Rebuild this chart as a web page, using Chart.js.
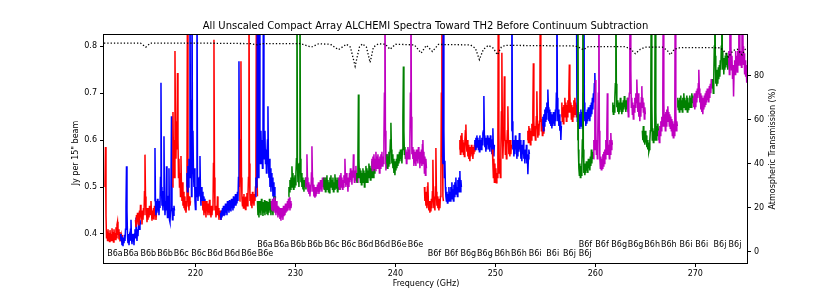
<!DOCTYPE html>
<html>
<head>
<meta charset="utf-8">
<script src="https://cdn.jsdelivr.net/npm/chart.js@4.4.1/dist/chart.umd.min.js"></script>
<style>
  html, body { margin: 0; padding: 0; background: #fff; }
</style>
</head>
<body>
<canvas id="spec" width="830" height="297"></canvas>
<script>
// spectral windows: start / end frequency (GHz), colour key, flux per channel (Jy per 15" beam)
const SPW_START = [210.95, 212.50, 214.00, 215.90, 217.70, 219.10, 220.70, 222.50, 224.40, 226.00,
                   226.20, 227.60, 229.30, 231.00, 232.80, 234.30, 236.10, 237.60, 239.10, 241.00,
                   242.90, 244.70, 246.40, 247.90, 249.70, 251.60, 253.20, 254.70, 256.60, 258.10,
                   258.20, 259.80, 261.70, 263.20, 264.70, 266.30, 268.20, 269.80, 271.70, 273.30];
const SPW_END = [212.70, 214.50, 216.10, 217.90, 219.50, 221.00, 222.70, 224.40, 226.20, 228.00,
                 228.00, 229.60, 231.10, 233.00, 234.50, 236.30, 238.00, 239.30, 241.00, 243.10,
                 244.80, 246.60, 248.10, 249.90, 251.60, 253.40, 254.90, 256.60, 258.20, 260.00,
                 259.80, 261.70, 263.30, 265.00, 266.30, 268.20, 269.80, 271.70, 273.30, 275.30];
const SPW_COLOR = ['r','b','r','b','r','b','r','b','r','b',
                   'g','m','g','m','g','m','g','m','g','m',
                   'r','b','r','b','r','b','r','b','r','b',
                   'g','m','g','m','g','m','g','m','g','m'];

const SPW_FLUX = [
  [0.50,0.585,0.44,0.392,0.405,0.386,0.41,0.39,0.402,0.384,0.408,0.392,0.40,0.386,0.412,0.39,0.404,0.383,0.41,0.394,0.402,0.388,0.414,0.392,0.42,0.426,0.398,0.41,0.388,0.404,0.384,0.40,0.39,0.396,0.382,0.398],
  [0.40,0.385,0.395,0.376,0.39,0.374,0.392,0.38,0.398,0.385,0.41,0.46,0.544,0.45,0.395,0.38,0.40,0.376,0.392,0.385,0.41,0.43,0.39,0.378,0.40,0.384,0.395,0.376,0.40,0.41,0.392,0.435,0.40,0.385,0.41,0.395,0.42,0.445,0.41,0.43,0.42],
  [0.43,0.415,0.44,0.42,0.445,0.425,0.44,0.418,0.45,0.43,0.462,0.435,0.45,0.42,0.445,0.43,0.455,0.44,0.49,0.569,0.48,0.44,0.455,0.425,0.45,0.43,0.455,0.435,0.46,0.44,0.455,0.47,0.445,0.428,0.45,0.432,0.455,0.43,0.46,0.438,0.45,0.43,0.445],
  [0.47,0.583,0.46,0.44,0.47,0.445,0.475,0.45,0.465,0.44,0.47,0.455,0.52,0.722,0.50,0.46,0.475,0.45,0.49,0.608,0.47,0.44,0.465,0.45,0.544,0.46,0.435,0.455,0.48,0.54,0.43,0.425,0.45,0.50,0.651,0.46,0.43,0.455,0.44,0.46,0.45],
  [0.50,0.66,0.55,0.60,0.52,0.79,0.62,0.56,0.64,0.58,0.743,0.60,0.52,0.56,0.50,0.53,0.48,0.566,0.50,0.47,0.51,0.46,0.49,0.455,0.48,0.45,0.47,0.445,0.46,0.52,0.95,0.55,0.47,0.45,0.48,0.46,0.47],
  [0.50,0.53,0.49,0.545,0.50,0.56,0.52,0.98,0.55,0.686,0.48,0.98,0.58,0.62,0.53,0.50,0.54,0.47,0.452,0.50,0.48,0.98,0.52,0.47,0.50,0.48,0.52,0.566,0.49,0.46,0.50,0.47,0.49,0.455,0.48,0.45,0.475,0.46,0.47],
  [0.47,0.45,0.465,0.44,0.47,0.445,0.46,0.435,0.47,0.45,0.46,0.44,0.465,0.445,0.473,0.44,0.46,0.435,0.455,0.44,0.46,0.45,0.55,0.814,0.52,0.45,0.46,0.435,0.45,0.44,0.48,0.44,0.455,0.43,0.45,0.435,0.448,0.43,0.45,0.438,0.445],
  [0.445,0.43,0.45,0.435,0.455,0.44,0.46,0.438,0.455,0.44,0.465,0.445,0.46,0.44,0.47,0.45,0.465,0.445,0.472,0.45,0.468,0.448,0.475,0.455,0.47,0.45,0.48,0.455,0.475,0.46,0.485,0.46,0.478,0.465,0.49,0.47,0.52,0.768,0.50],
  [0.47,0.49,0.60,0.768,0.52,0.475,0.46,0.48,0.455,0.485,0.46,0.478,0.452,0.48,0.465,0.487,0.46,0.48,0.52,0.98,0.55,0.47,0.485,0.46,0.48,0.455,0.49,0.465,0.485,0.46,0.48,0.47,0.50,0.56,0.98,0.53,0.48],
  [0.48,0.52,0.50,0.55,0.98,0.56,0.52,0.58,0.98,0.60,0.55,0.62,0.56,0.60,0.54,0.58,0.98,0.60,0.56,0.62,0.55,0.58,0.53,0.57,0.60,0.672,0.55,0.52,0.56,0.50,0.54,0.49,0.53,0.50,0.52,0.48,0.51,0.47,0.50,0.465,0.48],
  [0.47,0.44,0.465,0.435,0.47,0.445,0.462,0.44,0.475,0.45,0.46,0.438,0.468,0.445,0.472,0.44,0.465,0.448,0.47,0.442,0.46,0.44,0.468,0.445,0.475,0.45,0.465,0.44,0.47,0.448,0.46,0.44,0.47,0.45,0.48,0.455,0.47],
  [0.47,0.45,0.475,0.448,0.47,0.452,0.478,0.445,0.465,0.44,0.47,0.445,0.46,0.435,0.458,0.44,0.455,0.432,0.45,0.428,0.455,0.435,0.45,0.43,0.46,0.438,0.455,0.44,0.465,0.445,0.46,0.448,0.47,0.45,0.475,0.455,0.478,0.45,0.47,0.455,0.465],
  [0.48,0.50,0.49,0.515,0.495,0.52,0.50,0.544,0.51,0.53,0.495,0.52,0.50,0.525,0.505,0.53,0.56,0.98,0.55,0.51,0.525,0.50,0.55,0.98,0.56,0.51,0.53,0.50,0.52,0.495,0.515,0.49,0.51,0.50,0.52,0.495,0.51],
  [0.50,0.52,0.51,0.57,0.52,0.49,0.51,0.485,0.505,0.48,0.50,0.49,0.53,0.587,0.52,0.49,0.505,0.48,0.50,0.477,0.495,0.48,0.50,0.485,0.505,0.49,0.51,0.485,0.50,0.49,0.515,0.495,0.51,0.49,0.52,0.50,0.515,0.495,0.52,0.50,0.51],
  [0.50,0.52,0.495,0.515,0.49,0.52,0.50,0.525,0.495,0.515,0.49,0.51,0.488,0.52,0.50,0.525,0.50,0.515,0.495,0.52,0.49,0.51,0.495,0.527,0.50,0.52,0.498,0.515,0.49,0.52,0.50,0.518,0.495,0.51,0.50],
  [0.50,0.52,0.495,0.525,0.50,0.53,0.505,0.52,0.495,0.515,0.50,0.525,0.51,0.56,0.52,0.50,0.53,0.505,0.52,0.49,0.515,0.50,0.53,0.51,0.54,0.515,0.53,0.505,0.535,0.52,0.57,0.53,0.51,0.535,0.515,0.545,0.52,0.53,0.51,0.53,0.52],
  [0.51,0.53,0.52,0.56,0.697,0.56,0.52,0.54,0.51,0.535,0.505,0.53,0.51,0.54,0.515,0.535,0.50,0.53,0.51,0.545,0.52,0.54,0.51,0.535,0.52,0.55,0.525,0.545,0.515,0.54,0.52,0.555,0.53,0.545,0.52,0.55,0.53,0.545,0.535],
  [0.54,0.56,0.535,0.565,0.54,0.57,0.545,0.56,0.535,0.575,0.55,0.565,0.54,0.57,0.545,0.56,0.53,0.565,0.54,0.57,0.55,0.575,0.545,0.565,0.55,0.60,0.70,0.98,0.62,0.535,0.56,0.54,0.57,0.55,0.565],
  [0.55,0.57,0.54,0.565,0.545,0.575,0.55,0.57,0.60,0.637,0.58,0.55,0.57,0.54,0.56,0.53,0.555,0.525,0.55,0.535,0.56,0.54,0.57,0.545,0.565,0.55,0.575,0.555,0.58,0.56,0.575,0.55,0.58,0.65,0.757,0.62,0.57,0.585,0.56],
  [0.56,0.58,0.55,0.575,0.56,0.585,0.565,0.58,0.56,0.60,0.70,0.98,0.65,0.57,0.585,0.56,0.58,0.545,0.575,0.55,0.57,0.545,0.58,0.555,0.575,0.55,0.585,0.56,0.575,0.54,0.57,0.55,0.58,0.545,0.59,0.60,0.55,0.575,0.53,0.565,0.525,0.56,0.54],
  [0.50,0.47,0.49,0.46,0.48,0.455,0.50,0.51,0.465,0.45,0.47,0.445,0.46,0.448,0.475,0.455,0.49,0.558,0.48,0.455,0.47,0.45,0.50,0.583,0.49,0.46,0.48,0.455,0.475,0.45,0.47,0.455,0.48,0.52,0.70,0.98,0.60,0.48,0.47],
  [0.55,0.70,0.98,0.62,0.52,0.556,0.50,0.48,0.47,0.49,0.466,0.485,0.47,0.50,0.475,0.49,0.47,0.50,0.48,0.51,0.475,0.495,0.47,0.505,0.48,0.51,0.485,0.52,0.49,0.50,0.48,0.515,0.49,0.52,0.50,0.534,0.49,0.515,0.50],
  [0.58,0.60,0.57,0.61,0.575,0.615,0.585,0.60,0.57,0.595,0.565,0.60,0.62,0.633,0.59,0.575,0.60,0.565,0.59,0.56,0.585,0.555,0.58,0.565,0.59,0.57,0.585,0.56,0.58,0.57,0.59,0.575,0.595,0.58,0.59],
  [0.59,0.60,0.58,0.605,0.585,0.61,0.59,0.605,0.58,0.60,0.575,0.61,0.585,0.60,0.58,0.605,0.59,0.615,0.62,0.694,0.61,0.585,0.60,0.575,0.605,0.58,0.61,0.59,0.605,0.58,0.60,0.575,0.61,0.585,0.60,0.57,0.60,0.625,0.58,0.565,0.59],
  [0.58,0.55,0.52,0.56,0.51,0.55,0.515,0.54,0.509,0.53,0.52,0.60,0.98,0.62,0.53,0.56,0.52,0.58,0.66,0.786,0.62,0.56,0.60,0.65,0.736,0.62,0.57,0.60,0.56,0.59,0.62,0.672,0.60,0.57,0.595,0.565,0.60,0.57,0.59],
  [0.62,0.98,0.64,0.58,0.60,0.565,0.595,0.57,0.61,0.58,0.60,0.56,0.59,0.565,0.60,0.575,0.615,0.58,0.60,0.56,0.585,0.555,0.59,0.57,0.60,0.56,0.58,0.55,0.575,0.56,0.59,0.55,0.57,0.527,0.56,0.58,0.57],
  [0.60,0.62,0.595,0.63,0.60,0.625,0.59,0.62,0.60,0.635,0.61,0.66,0.764,0.64,0.61,0.63,0.60,0.62,0.65,0.704,0.63,0.605,0.635,0.61,0.64,0.66,0.98,0.66,0.62,0.645,0.61,0.635,0.615,0.64,0.62],
  [0.63,0.65,0.62,0.655,0.63,0.665,0.64,0.67,0.645,0.68,0.66,0.708,0.67,0.64,0.665,0.635,0.66,0.63,0.655,0.625,0.65,0.63,0.66,0.635,0.655,0.63,0.665,0.64,0.70,0.98,0.69,0.64,0.665,0.63,0.655,0.62,0.64,0.60,0.63],
  [0.65,0.68,0.64,0.67,0.635,0.675,0.65,0.69,0.655,0.68,0.64,0.675,0.65,0.685,0.66,0.70,0.761,0.70,0.66,0.68,0.645,0.675,0.64,0.67,0.65,0.685,0.655,0.69,0.66,0.68,0.65,0.675,0.66],
  [0.98,0.70,0.64,0.665,0.63,0.66,0.625,0.655,0.63,0.665,0.635,0.66,0.625,0.67,0.70,0.98,0.68,0.64,0.66,0.63,0.655,0.635,0.665,0.64,0.67,0.645,0.665,0.64,0.675,0.65,0.68,0.655,0.69,0.665,0.70,0.68,0.72,0.743,0.70],
  [0.60,0.98,0.58,0.54,0.525,0.55,0.52,0.545,0.525,0.55,0.60,0.98,0.58,0.53,0.55,0.525,0.545,0.53,0.555,0.535,0.55,0.53,0.56,0.54,0.555,0.535,0.565,0.545,0.58,0.55,0.575,0.56,0.57],
  [0.56,0.60,0.58,0.65,0.728,0.62,0.57,0.60,0.56,0.62,0.70,0.98,0.62,0.56,0.54,0.565,0.537,0.56,0.54,0.57,0.545,0.575,0.55,0.58,0.56,0.60,0.57,0.62,0.70,0.60,0.57,0.59,0.56,0.60,0.57,0.615,0.58,0.60,0.59],
  [0.66,0.68,0.655,0.675,0.66,0.69,0.72,0.98,0.72,0.67,0.685,0.66,0.68,0.655,0.675,0.66,0.69,0.665,0.68,0.655,0.675,0.66,0.685,0.665,0.694,0.67,0.685,0.66,0.68,0.665,0.69,0.67,0.68],
  [0.66,0.69,0.65,0.68,0.70,0.80,0.98,0.75,0.67,0.69,0.655,0.68,0.645,0.675,0.66,0.69,0.67,0.70,0.68,0.729,0.69,0.66,0.70,0.65,0.68,0.64,0.675,0.65,0.69,0.715,0.67,0.69,0.66,0.68,0.645,0.67,0.655],
  [0.62,0.60,0.63,0.595,0.615,0.59,0.62,0.595,0.61,0.585,0.60,0.58,0.595,0.575,0.58,0.60,0.62,0.70,0.98,0.68,0.60,0.625,0.595,0.62,0.60,0.70,0.98,0.66,0.60,0.63,0.61,0.635,0.62],
  [0.60,0.62,0.595,0.63,0.61,0.64,0.62,0.65,0.63,0.70,0.98,0.68,0.63,0.655,0.62,0.66,0.63,0.665,0.64,0.672,0.645,0.66,0.63,0.655,0.625,0.65,0.62,0.645,0.61,0.64,0.605,0.635,0.61,0.68,0.98,0.66,0.62,0.64,0.63],
  [0.67,0.69,0.665,0.685,0.66,0.69,0.67,0.695,0.665,0.685,0.66,0.69,0.67,0.70,0.675,0.69,0.665,0.685,0.67,0.695,0.66,0.69,0.665,0.68,0.67,0.695,0.675,0.69,0.67,0.70,0.68,0.695,0.685],
  [0.69,0.67,0.70,0.665,0.695,0.67,0.705,0.68,0.71,0.69,0.72,0.75,0.71,0.68,0.70,0.665,0.695,0.66,0.69,0.655,0.685,0.665,0.695,0.67,0.70,0.675,0.705,0.68,0.71,0.685,0.70,0.68,0.715,0.69,0.72,0.70,0.73,0.71,0.72],
  [0.71,0.73,0.70,0.74,0.80,0.98,0.78,0.72,0.745,0.715,0.75,0.72,0.755,0.73,0.76,0.735,0.77,0.75,0.80,0.98,0.79,0.75,0.77,0.74,0.775,0.75,0.78,0.755,0.786,0.76,0.78,0.75,0.77],
  [0.76,0.79,0.74,0.85,0.98,0.80,0.75,0.78,0.73,0.76,0.693,0.75,0.77,0.74,0.79,0.75,0.78,0.745,0.79,0.76,0.85,0.98,0.80,0.76,0.79,0.755,0.85,0.98,0.80,0.76,0.785,0.74,0.77,0.735,0.76,0.722,0.75,0.76,0.77]
];

// atmospheric transmission (%)
const ATM_FREQ = [210.85,214.5,215.03,215.5,220.5,225.5,226.2,226.7,230.5,231.6,232.3,233.5,234.3,235.1,235.5,235.97,236.4,236.7,237.1,237.47,237.8,238.3,239.0,239.47,240.0,241.9,242.57,243.1,243.7,244.3,247.5,248.0,248.4,248.8,249.3,249.8,250.2,250.6,251.0,258.0,258.4,258.8,259.3,263.0,263.5,264.0,264.5,265.0,266.7,267.2,267.5,267.9,268.5,272.5,272.9,273.3,273.8,274.2,274.67,275.0,275.17];
const ATM_PCT = [94.8,94.8,93.0,94.8,94.8,94.6,94.0,94.6,94.6,93.0,94.5,94.3,91.8,94.3,93.0,84.3,93.0,94.5,93.0,86.0,93.0,94.5,94.3,92.0,94.3,94.0,90.3,93.8,91.0,94.2,94.0,92.5,87.3,92.0,93.8,92.5,89.5,93.0,93.8,93.5,92.8,91.8,93.2,93.2,92.2,90.0,92.0,93.0,93.0,91.5,89.5,92.0,92.8,92.7,91.0,88.5,91.5,92.0,89.5,92.0,92.5];

// window labels: text, frequency (GHz), row (0 = lower, 1 = upper)
const LABEL_TEXT = ['B6a','B6a','B6b','B6b','B6c','B6c','B6d','B6d','B6e','B6e',
                    'B6a','B6a','B6b','B6b','B6c','B6c','B6d','B6d','B6e','B6e',
                    'B6f','B6f','B6g','B6g','B6h','B6h','B6i','B6i','B6j','B6j',
                    'B6f','B6f','B6g','B6g','B6h','B6h','B6i','B6i','B6j','B6j'];
const LABEL_FREQ = [211.17,212.77,214.50,216.17,217.83,219.57,221.17,222.90,224.57,226.23,
                    226.17,227.83,229.50,231.17,232.90,234.57,236.23,237.90,239.57,241.23,
                    243.23,244.90,246.50,248.17,249.90,251.57,253.33,255.10,256.77,258.33,
                    258.33,260.00,261.60,263.23,264.90,266.57,268.43,270.00,271.83,273.33];
const LABEL_ROW = [0,0,0,0,0,0,0,0,0,0, 1,1,1,1,1,1,1,1,1,1,
                   0,0,0,0,0,0,0,0,0,0, 1,1,1,1,1,1,1,1,1,1];
const LABEL_ROW_JY = [0.3575, 0.3765];

const X_TICKS = [220, 230, 240, 250, 260, 270];
const Y_TICKS = [0.4, 0.5, 0.6, 0.7, 0.8];
const ATM_TICKS = [0, 20, 40, 60, 80];

const COLORS = { r: '#ff0000', b: '#0000ff', g: '#008000', m: '#bf00bf' };
const FONT = 'DejaVu Sans';

const datasets = SPW_FLUX.map((vals, k) => {
  const lo = SPW_START[k];
  const step = (SPW_END[k] - lo) / (vals.length - 1);
  return {
    data: vals.map((v, i) => ({ x: lo + i * step, y: v })),
    yAxisID: 'y',
    borderColor: COLORS[SPW_COLOR[k]],
    borderWidth: 1.5,
    pointRadius: 0,
    tension: 0,
    order: 100 - k
  };
});

datasets.push({
  data: ATM_FREQ.map((f, i) => ({ x: f, y: ATM_PCT[i] })),
  yAxisID: 'y2',
  borderColor: '#000',
  borderWidth: 1.3,
  borderDash: [1.3, 2],
  pointRadius: 0,
  tension: 0,
  order: -1
});

function fixTicks(list) {
  return (scale) => { scale.ticks = list.map(v => ({ value: v })); };
}

const tickFont = { family: FONT, size: 8 };

const decorations = {
  id: 'decorations',
  afterDraw(chart) {
    const { ctx, chartArea: a } = chart;
    const xs = chart.scales.x, ys = chart.scales.y;
    ctx.save();
    // frame
    ctx.strokeStyle = '#000';
    ctx.lineWidth = 1;
    ctx.strokeRect(a.left - 0.5, a.top - 0.5, a.right - a.left + 1, a.bottom - a.top + 1);

    // band labels
    ctx.fillStyle = '#000';
    ctx.font = `8px "${FONT}"`;
    ctx.textAlign = 'left';
    ctx.textBaseline = 'middle';
    LABEL_TEXT.forEach((t, i) => {
      ctx.fillText(t, xs.getPixelForValue(LABEL_FREQ[i]), ys.getPixelForValue(LABEL_ROW_JY[LABEL_ROW[i]]));
    });

    // title
    ctx.font = `10px "${FONT}"`;
    ctx.textAlign = 'center';
    ctx.fillText('All Unscaled Compact Array ALCHEMI Spectra Toward TH2 Before Continuum Subtraction', (a.left + a.right) / 2, 26.5);

    // axis titles
    ctx.font = `8px "${FONT}"`;
    ctx.fillText('Frequency (GHz)', 426, 284);
    ctx.translate(76, 153);
    ctx.rotate(-Math.PI / 2);
    ctx.fillText('Jy per 15" beam', 0, 0);
    ctx.setTransform(1, 0, 0, 1, 0, 0);
    ctx.translate(773, 149);
    ctx.rotate(-Math.PI / 2);
    ctx.fillText('Atmospheric Transmission (%)', 0, 0);
    ctx.restore();
  }
};

new Chart(document.getElementById('spec'), {
  type: 'line',
  data: { datasets },
  options: {
    responsive: false,
    animation: false,
    events: [],
    layout: { padding: { top: 35, left: 0, right: 0, bottom: 0 } },
    plugins: { legend: { display: false }, title: { display: false }, tooltip: { enabled: false } },
    scales: {
      x: {
        type: 'linear',
        min: 210.85,
        max: 275.17,
        afterBuildTicks: fixTicks(X_TICKS),
        afterFit: (s) => { s.height = 34; },
        border: { display: false },
        grid: { drawOnChartArea: false, drawTicks: true, tickLength: 4, color: '#000' },
        ticks: { color: '#000', font: tickFont, padding: 2, maxRotation: 0, callback: (v) => String(v) }
      },
      y: {
        type: 'linear',
        position: 'left',
        min: 0.338,
        max: 0.824,
        afterBuildTicks: fixTicks(Y_TICKS),
        afterFit: (s) => { s.width = 104; },
        border: { display: false },
        grid: { drawOnChartArea: false, drawTicks: true, tickLength: 4, color: '#000' },
        ticks: { color: '#000', font: tickFont, padding: 3, callback: (v) => v.toFixed(1) }
      },
      y2: {
        type: 'linear',
        position: 'right',
        min: -5.14,
        max: 98.5,
        afterBuildTicks: fixTicks(ATM_TICKS),
        afterFit: (s) => { s.width = 83; },
        border: { display: false },
        grid: { drawOnChartArea: false, drawTicks: true, tickLength: 4, color: '#000' },
        ticks: { color: '#000', font: tickFont, padding: 3, callback: (v) => String(v) }
      }
    }
  },
  plugins: [decorations]
});
</script>
</body>
</html>
